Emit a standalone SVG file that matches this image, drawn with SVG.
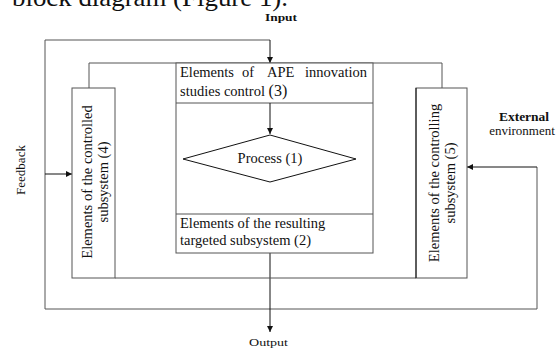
<svg xmlns="http://www.w3.org/2000/svg" width="560" height="349" viewBox="0 0 560 349">
<style>
.ln{fill:none;stroke:#555;stroke-width:1}
.ar{fill:none;stroke:#111;stroke-width:1}
.box{fill:#fff;stroke:#555;stroke-width:1}
.t{font-family:"Liberation Serif","Times New Roman",serif;fill:#111}
.m{font-size:14.5px}
.s{font-size:11px}
</style>
<defs>
<marker id="ah" viewBox="0 0 10 10" refX="10" refY="5" markerWidth="6" markerHeight="6" markerUnits="userSpaceOnUse" orient="auto">
<path d="M0,0 L10,5 L0,10 z" fill="#111"/>
</marker>
</defs>
<rect width="560" height="349" fill="#fff"/>
<text class="t" x="12" y="6" font-size="26" textLength="276" lengthAdjust="spacingAndGlyphs">block diagram (Figure 1).</text>
<g id="connectors">
<path class="ln" d="M270,40 H45 V309 H537 V167"/>
<path class="ar" d="M270,40 V63" marker-end="url(#ah)"/>
<path class="ln" d="M89,88 V63 H442 V88"/>
<path class="ar" d="M270,253 V332" marker-end="url(#ah)"/>
<path class="ar" d="M45,174 H72" marker-end="url(#ah)"/>
<path class="ar" d="M537,167 H467" marker-end="url(#ah)"/>
<path class="ln" d="M115,278 H416"/>
</g>
<g id="input"><text class="t s" x="265" y="21" textLength="32" lengthAdjust="spacingAndGlyphs" font-weight="bold">Input</text></g>
<g id="output"><text class="t s" x="249" y="346" textLength="39" lengthAdjust="spacingAndGlyphs">Output</text></g>
<g id="feedback"><text class="t" font-size="13" transform="translate(25,170) rotate(-90)" text-anchor="middle">Feedback</text></g>
<g id="external"><text class="t" font-size="13.5" x="524" y="121" text-anchor="middle" font-weight="bold">External</text>
<text class="t" font-size="13" x="522" y="135" text-anchor="middle">environment</text></g>
<g id="node4">
<rect class="box" x="72" y="88" width="43" height="190"/>
<text class="t m" transform="translate(92,182) rotate(-90)" text-anchor="middle">Elements of the controlled</text>
<text class="t m" transform="translate(108,182) rotate(-90)" text-anchor="middle">subsystem (4)</text>
</g>
<g id="node5">
<rect class="box" x="416" y="88" width="51" height="190"/>
<path d="M416,88 V278" stroke="#111"/>
<text class="t m" transform="translate(439,183) rotate(-90)" text-anchor="middle">Elements of the controlling</text>
<text class="t m" transform="translate(455,183) rotate(-90)" text-anchor="middle">subsystem (5)</text>
</g>
<g id="node-main">
<rect class="box" x="176" y="63" width="197" height="190"/>
<path class="ln" d="M176,103 H373 M176,214 H373"/>
</g>
<g id="node3">
<text class="t m" x="180" y="77">Elements</text>
<text class="t m" x="242" y="77">of</text>
<text class="t m" x="267" y="77">APE</text>
<text class="t m" x="367" y="77" text-anchor="end">innovation</text>
<text class="t m" x="180" y="96">studies control <tspan font-size="16">(3)</tspan></text>
</g>
<g id="node1">
<path class="ar" d="M183,159 L270,135 L356,159 L270,182 Z"/>
<path d="M270,103 V134" class="ar" marker-end="url(#ah)"/>
<text class="t m" x="270" y="163" text-anchor="middle">Process (1)</text>
</g>
<g id="node2">
<text class="t m" x="180" y="228">Elements of the resulting</text>
<text class="t m" x="180" y="245">targeted subsystem (2)</text>
</g>
</svg>
